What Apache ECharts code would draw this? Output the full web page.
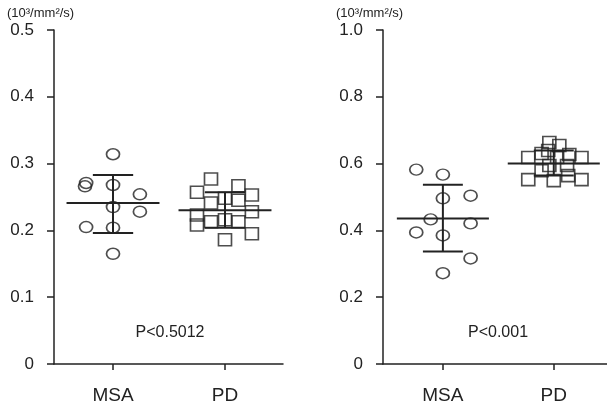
<!DOCTYPE html>
<html>
<head>
<meta charset="utf-8">
<script src="https://cdn.jsdelivr.net/npm/echarts@6/dist/echarts.min.js"></script>
<style>
  html, body { margin: 0; padding: 0; background: #fff; }
  #chart { width: 607px; height: 410px; }
</style>
</head>
<body>
<div id="chart"></div>
<script>
// groups sit at x = 0 (MSA) and x = 1 (PD); first number of each point is its jittered x
const groups = ["MSA", "PD"];

// left panel, 0 - 0.5
const msaLeft = [[0, 0.314], [-0.24, 0.271], [-0.25, 0.266], [0, 0.268], [0.24, 0.254],
  [0, 0.235], [0.24, 0.228], [-0.24, 0.205], [0, 0.204], [0, 0.165]];
const pdLeft = [[0.875, 0.277], [1.12, 0.267], [0.75, 0.257], [1.24, 0.253], [0.875, 0.241],
  [1.0, 0.248], [1.12, 0.245], [1.24, 0.228], [0.75, 0.223], [0.875, 0.213],
  [1.0, 0.216], [1.12, 0.213], [0.75, 0.208], [1.24, 0.195], [1.0, 0.186]];
const meanLeft = [0.241, 0.230];
const lowLeft = [0.196, 0.204];
const highLeft = [0.283, 0.257];
const ticksLeft = [0, 0.1, 0.2, 0.3, 0.4, 0.5];

// right panel, 0 - 1.0
const msaRight = [[-0.24, 0.582], [0, 0.567], [0.25, 0.504], [0, 0.496], [-0.11, 0.433],
  [0.25, 0.421], [-0.24, 0.394], [0, 0.385], [0.25, 0.316], [0, 0.272]];
const pdRight = [[0.96, 0.663], [1.05, 0.654], [0.89, 0.630], [0.95, 0.639], [1.14, 0.627],
  [0.77, 0.618], [1.25, 0.618], [1.03, 0.618], [0.96, 0.594], [1.12, 0.594],
  [0.89, 0.579], [1.13, 0.564], [0.77, 0.552], [1.0, 0.549], [1.25, 0.552]];
const meanRight = [0.436, 0.600];
const lowRight = [0.337, 0.564];
const highRight = [0.537, 0.639];
const ticksRight = [0, 0.2, 0.4, 0.6, 0.8, 1.0];

const pText = ["P<0.5012", "P<0.001"];
const unitText = "(10\u00b3/mm\u00b2/s)";

const ink = "#222";
const font = "Liberation Sans, Arial, sans-serif";

function errorData(mean, low, high) {
  return mean.map((m, i) => [i, m, low[i], high[i]]);
}

function renderErr(params, api) {
  let x = api.value(0);
  let m = api.coord([x, api.value(1)]);
  let lo = api.coord([x, api.value(2)]);
  let hi = api.coord([x, api.value(3)]);
  let unit = api.size([1, 0])[0];
  let half = unit * 0.415;
  let cap = unit * 0.18;
  let style = { stroke: ink, lineWidth: 2 };
  return {
    type: "group",
    children: [
      { type: "line", shape: { x1: m[0] - half, y1: m[1], x2: m[0] + half, y2: m[1] }, style: style },
      { type: "line", shape: { x1: lo[0], y1: lo[1], x2: hi[0], y2: hi[1] }, style: style },
      { type: "line", shape: { x1: hi[0] - cap, y1: hi[1], x2: hi[0] + cap, y2: hi[1] }, style: style },
      { type: "line", shape: { x1: lo[0] - cap, y1: lo[1], x2: lo[0] + cap, y2: lo[1] }, style: style },
    ],
  };
}

function xAxisFor(idx, min, max) {
  return {
    type: "value",
    gridIndex: idx,
    min: min,
    max: max,
    splitLine: { show: false },
    axisLine: { onZero: false, lineStyle: { color: ink, width: 1.5 } },
    axisTick: { length: 6, customValues: [0, 1], lineStyle: { color: ink, width: 1.5 } },
    axisLabel: {
      customValues: [0, 1],
      margin: 22,
      fontSize: 19,
      fontFamily: font,
      color: ink,
      formatter: (v) => groups[Math.round(v)],
    },
  };
}

function yAxisFor(idx, max, ticks) {
  return {
    type: "value",
    gridIndex: idx,
    min: 0,
    max: max,
    splitLine: { show: false },
    axisLine: { show: true, onZero: false, lineStyle: { color: ink, width: 1.5 } },
    axisTick: { show: true, length: 7, customValues: ticks, lineStyle: { color: ink, width: 1.5 } },
    axisLabel: {
      customValues: ticks,
      margin: 20,
      fontSize: 17,
      fontFamily: font,
      color: ink,
      formatter: (v) => (v === 0 ? "0" : v.toFixed(1)),
    },
  };
}

function scatter(idx, data, symbol, size) {
  return {
    type: "scatter",
    xAxisIndex: idx,
    yAxisIndex: idx,
    data: data,
    symbol: symbol,
    symbolSize: size,
    itemStyle: { color: "rgba(0,0,0,0)", borderColor: ink, borderWidth: 1.6 },
    emphasis: { disabled: true },
    z: 3,
  };
}

let chart = echarts.init(document.getElementById("chart"));
chart.setOption({
  animation: false,
  grid: [
    { left: 54, top: 30, width: 229, height: 334 },
    { left: 383, top: 30, width: 224, height: 334 },
  ],
  xAxis: [xAxisFor(0, -0.527, 1.518), xAxisFor(1, -0.54, 1.48)],
  yAxis: [yAxisFor(0, 0.5, ticksLeft), yAxisFor(1, 1.0, ticksRight)],
  graphic: [
    { type: "text", left: 7, top: 7, style: { text: unitText, fontSize: 13, fontFamily: font, fill: ink } },
    { type: "text", left: 336, top: 7, style: { text: unitText, fontSize: 13, fontFamily: font, fill: ink } },
    { type: "text", x: 170, y: 333, style: { text: pText[0], fontSize: 16, fontFamily: font, fill: ink, align: "center", verticalAlign: "middle" } },
    { type: "text", x: 498, y: 333, style: { text: pText[1], fontSize: 16, fontFamily: font, fill: ink, align: "center", verticalAlign: "middle" } },
  ],
  series: [
    scatter(0, msaLeft, "circle", [13, 11]),
    scatter(0, pdLeft, "rect", [13, 12]),
    scatter(1, msaRight, "circle", [13, 11]),
    scatter(1, pdRight, "rect", [13, 12]),
    { type: "custom", xAxisIndex: 0, yAxisIndex: 0, data: errorData(meanLeft, lowLeft, highLeft), renderItem: renderErr, z: 2 },
    { type: "custom", xAxisIndex: 1, yAxisIndex: 1, data: errorData(meanRight, lowRight, highRight), renderItem: renderErr, z: 2 },
  ],
});
</script>
</body>
</html>
